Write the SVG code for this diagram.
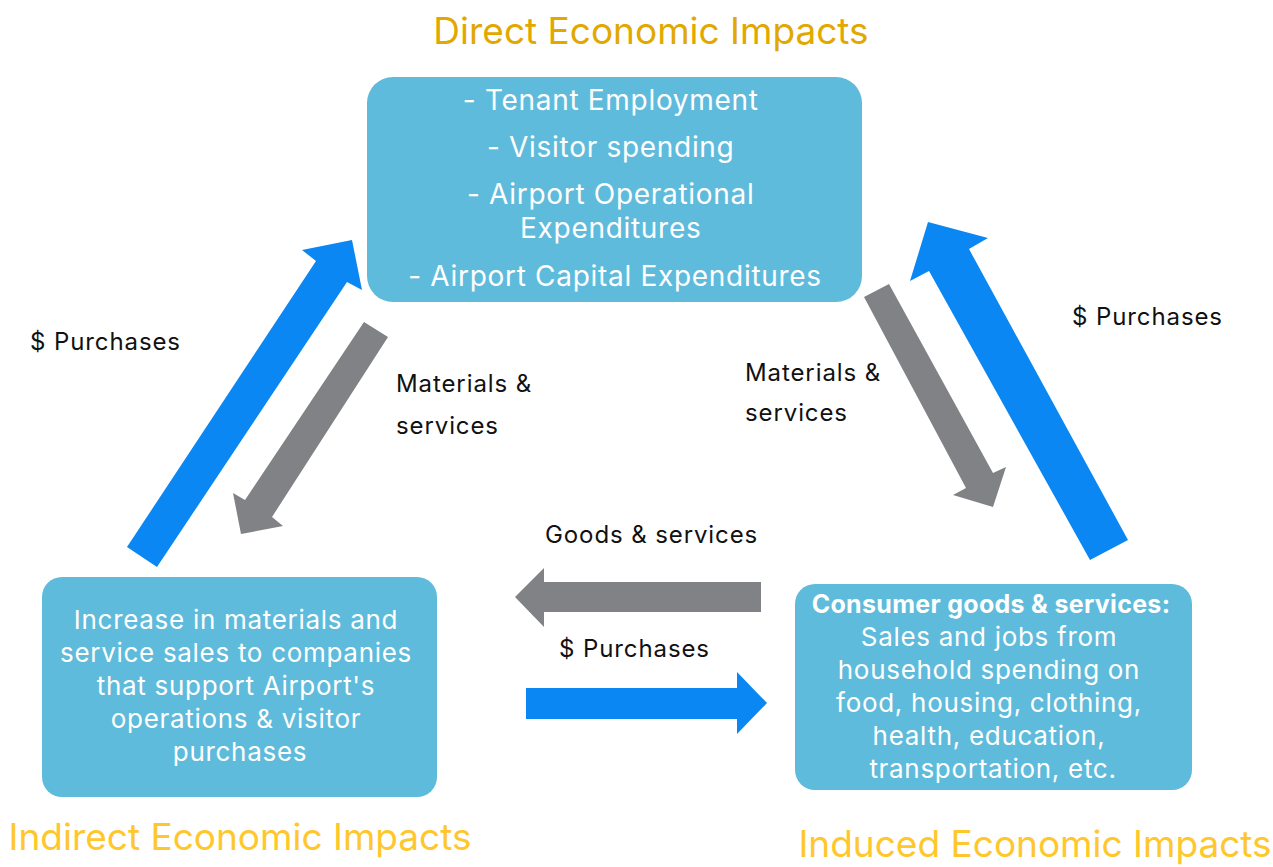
<svg xmlns="http://www.w3.org/2000/svg" width="1273" height="867" viewBox="0 0 1273 867">
  <style>
    .box { fill: #5FBBDB; }
    .bt { font-family: Inter, "Noto Sans", "Liberation Sans", sans-serif; fill: #FFFFFF; text-anchor: middle; letter-spacing: 0.7px; }
    .lbl { font-family: Inter, "Noto Sans", "Liberation Sans", sans-serif; fill: #111111; font-size: 24px; letter-spacing: 0.9px; }
    .title { font-family: Inter, "Noto Sans", "Liberation Sans", sans-serif; font-size: 37px; text-anchor: middle; }
    .blue { fill: #0A87F2; }
    .gray { fill: #808285; }
  </style>
  <rect width="1273" height="867" fill="#FFFFFF"/>

  <!-- arrows between impact boxes -->
  <g id="connectors">
    <polygon class="blue" points="127,547 157,567 347,282 362,290 352,240 302,250 316,261"/>
    <polygon class="gray" points="364,322 388,337 272,517 283,526 241,534 233,493 245,500"/>
    <polygon class="gray" points="864,297 889,284 993,473 1006,467 993,507 953,495 966,488"/>
    <polygon class="blue" points="1090,560 1128,540 969,249 988,238 928,222 910,281 929,271"/>
    <polygon class="gray" points="761,582 761,612 544,612 544,627 515,597 544,568 544,582"/>
    <polygon class="blue" points="526,688 737,688 737,672 767,703 737,734 737,719 526,719"/>
  </g>

  <g id="labels">
    <text class="lbl" x="30" y="350">$ Purchases</text>
    <text class="lbl" x="396" y="392">Materials &amp;</text>
    <text class="lbl" x="396" y="434">services</text>
    <text class="lbl" x="745" y="381">Materials &amp;</text>
    <text class="lbl" x="745" y="421">services</text>
    <text class="lbl" x="1072" y="325">$ Purchases</text>
    <text class="lbl" x="545" y="543">Goods &amp; services</text>
    <text class="lbl" x="559" y="657">$ Purchases</text>
  </g>

  <g id="direct">
    <text class="title" x="651" y="44" fill="#E2A800">Direct Economic Impacts</text>
    <rect class="box" x="367" y="77" width="495" height="225" rx="26"/>
    <text class="bt" font-size="28">
      <tspan x="615" y="110">- Tenant Employment</tspan>
      <tspan x="615" y="157">- Visitor spending</tspan>
      <tspan x="615" y="204">- Airport Operational</tspan>
      <tspan x="615" y="238">Expenditures</tspan>
      <tspan x="615" y="286">- Airport Capital Expenditures</tspan>
    </text>
  </g>

  <g id="indirect">
    <rect class="box" x="42" y="577" width="395" height="220" rx="20"/>
    <text class="bt" font-size="26">
      <tspan x="240" y="629">Increase in materials and</tspan>
      <tspan x="240" y="662">service sales to companies</tspan>
      <tspan x="240" y="695">that support Airport's</tspan>
      <tspan x="240" y="728">operations &amp; visitor</tspan>
      <tspan x="240" y="761">purchases</tspan>
    </text>
    <text class="title" x="240" y="850" fill="#FFC72C">Indirect Economic Impacts</text>
  </g>

  <g id="induced">
    <rect class="box" x="795" y="584" width="397" height="206" rx="20"/>
    <text class="bt" font-size="26">
      <tspan x="995" y="613" font-weight="700" font-size="25" letter-spacing="0.3">Consumer goods &amp; services:</tspan>
      <tspan x="993" y="646">Sales and jobs from</tspan>
      <tspan x="993" y="679">household spending on</tspan>
      <tspan x="993" y="712">food, housing, clothing,</tspan>
      <tspan x="993" y="745">health, education,</tspan>
      <tspan x="993" y="778">transportation, etc.</tspan>
    </text>
    <text class="title" x="1035" y="857" fill="#FFC72C">Induced Economic Impacts</text>
  </g>
</svg>
